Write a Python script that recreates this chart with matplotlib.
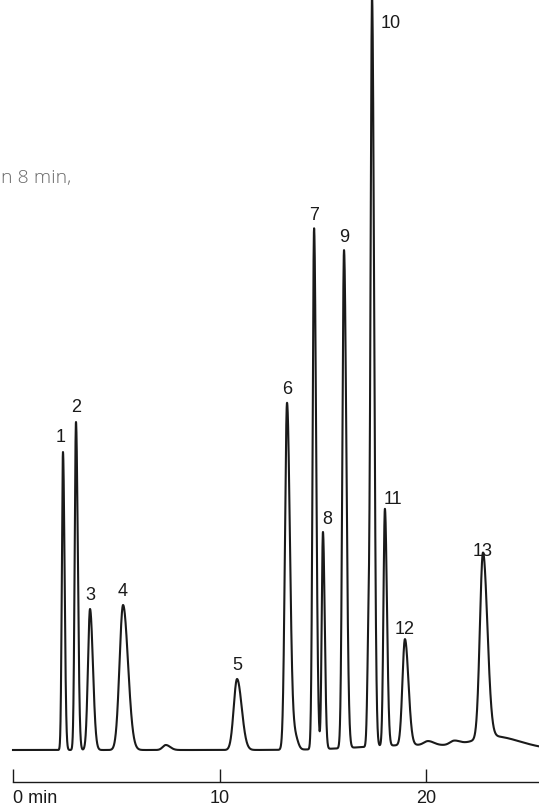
import numpy as np
import matplotlib
matplotlib.use('Agg')
import matplotlib.pyplot as plt

plt.rcParams['font.family'] = ['Liberation Sans', 'DejaVu Sans']

# picos numerados: tempo de retencao (min), altura (u.a.), largura (min)
picos = ['1', '2', '3', '4', '5', '6', '7', '8', '9', '10', '11', '12', '13']
tempos = [2.42, 3.05, 3.73, 5.33, 10.85, 13.27, 14.58, 15.01, 16.03, 17.39, 18.01, 18.98, 22.76]
alturas = [298, 328, 141, 145, 71, 347, 521, 217, 498, 737, 237, 106, 185]
larguras = [0.055, 0.063, 0.10, 0.17, 0.16, 0.10, 0.07, 0.06, 0.08, 0.07, 0.07, 0.12, 0.15]

# picos pequenos sem numero (ombros, ruido da linha de base)
tempos_menores = [7.4, 13.65, 17.22, 20.1, 21.36, 19.5, 23.3]
alturas_menores = [5, 14, 110, 4, 4, 5, 11]
larguras_menores = [0.15, 0.10, 0.06, 0.2, 0.2, 2.5, 0.9]

ticks_x = [0, 10, 20]
ticks_txt = ['0 min', '10', '20']


def pico(t, t0, h, s):
    # gaussiana com cauda um pouco mais larga a direita
    s_lado = np.where(t < t0, s, s * 1.4)
    return h * np.exp(-0.5 * ((t - t0) / s_lado) ** 2)


t = np.linspace(0, 25.6, 8000)
sinal = np.zeros_like(t)
for t0, h, s in zip(tempos + tempos_menores, alturas + alturas_menores, larguras + larguras_menores):
    sinal += pico(t, t0, h, s)

W, H = 539, 807
x0, k = 13, 20.65  # pixel do zero e pixels por minuto
fig = plt.figure(figsize=(W / 100, H / 100), dpi=100)
ax = fig.add_axes([0, 0, 1, 1])
ax.set_xlim(-x0 / k, (W - x0) / k)
ax.set_ylim(-57, 750)

ax.plot(t, sinal, color='#1a1a1a', lw=1.5, solid_joinstyle='round')

# rotulos dos picos
dx = {'1': -0.1, '8': 0.2, '11': 0.4}
for nome, t0, h in zip(picos, tempos, alturas):
    if nome == '10':
        ax.text(t0 + 0.42, h - 10, nome, ha='left', va='center', fontsize=13, color='#1a1a1a')
    else:
        ax.text(t0 + dx.get(nome, 0), h + 9.5, nome, ha='center', va='baseline', fontsize=13,
                color='#1a1a1a')

# eixo do tempo
for lado in ['left', 'right', 'top']:
    ax.spines[lado].set_visible(False)
ax.spines['bottom'].set_position(('data', -32))
ax.spines['bottom'].set_bounds(0, (W - x0) / k)
ax.spines['bottom'].set_linewidth(1.0)
ax.spines['bottom'].set_color('#1a1a1a')
ax.set_yticks([])
ax.set_xticks(ticks_x)
ax.set_xticklabels(ticks_txt, fontsize=13, color='#1a1a1a')
ax.tick_params(axis='x', direction='in', length=9.5, width=1.0, pad=6, color='#1a1a1a')
ax.get_xticklabels()[0].set_horizontalalignment('left')

# resto do texto da legenda original
fig.text(1 / W, 1 - 183 / H, 'n 8 min,', ha='left', va='baseline', fontsize=14,
         family='Open Sans', fontweight='light', color='#6a6a6a')

fig.savefig('out.png', dpi=100)
